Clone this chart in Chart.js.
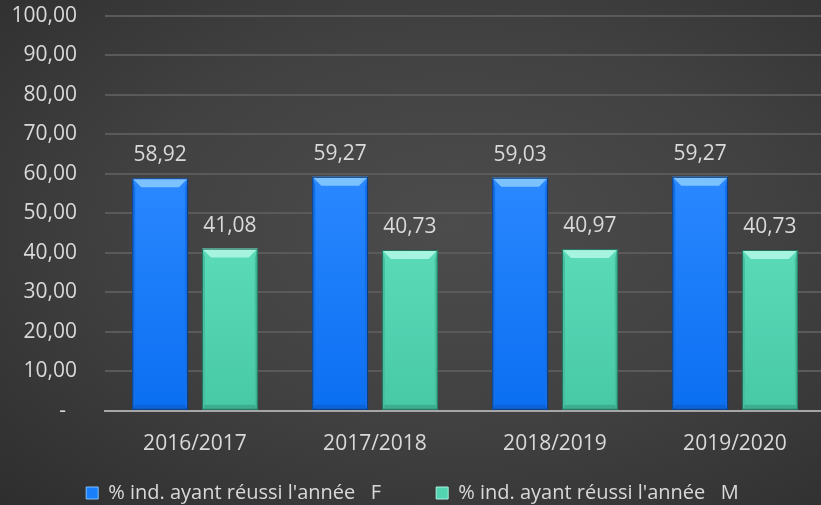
<!DOCTYPE html>
<html>
<head>
<meta charset="utf-8">
<script src="https://cdn.jsdelivr.net/npm/chart.js@4.4.1/dist/chart.umd.min.js"></script>
<style>
html,body{margin:0;padding:0;overflow:hidden;background:#3c3c3c;}
#wrap{position:relative;width:825px;height:505px;
background:radial-gradient(ellipse at 55% 45%, #4c4c4c 0%, #414141 50%, #2e2e2e 100%);}
canvas{display:block;}
</style>
</head>
<body>
<div id="wrap"><canvas id="chartCanvas" width="825" height="505"></canvas></div>
<script>

const categories = ["2016/2017","2017/2018","2018/2019","2019/2020"];
const valuesF = [58.92, 59.27, 59.03, 59.27];
const valuesM = [41.08, 40.73, 40.97, 40.73];
const seriesNames = ["% ind. ayant réussi l'année   F", "% ind. ayant réussi l'année   M"];
const yTicks = [0,10,20,30,40,50,60,70,80,90,100];

const textColor = "#d9d9d9";
const fontFamily = "'Open Sans', sans-serif";

function fmt(v){
if(v === 0){
return "-  ";
}
return v.toFixed(2).replace(".", ",");
}

// colours per series
const palettes = [
{main:"#1a7ffb", top:"#2a88ff", bottom:"#0b6ff2", bevelTop:"#7cc2ff", bevelSide:"#1470e8", bevelBottom:"#0c62d8", edge:"#0d3f80"},
{main:"#52d4b1", top:"#5bdab8", bottom:"#48c9a6", bevelTop:"#a6f3df", bevelSide:"#46bf9e", bevelBottom:"#3cae8e", edge:"#24705c"}
];

// bevelled bars + value labels, legend placement
const bevelPlugin = {
id:"bevel",
beforeLayout(chart){
// wide gap between legend items, but a short legend box
const legend = chart.legend;
if(legend && !legend._patched){
const origFit = legend.fit;
legend.fit = function(){
origFit.call(this);
this.height = 27;
};
legend._patched = true;
}
},
afterLayout(chart){
// items are drawn at top + padding, so lift the box
chart.legend.top = 428;
},
afterDatasetsDraw(chart){
const ctx = chart.ctx;
chart.data.datasets.forEach((ds, di) => {
const meta = chart.getDatasetMeta(di);
const p = palettes[di];
meta.data.forEach((bar, i) => {
const {x, y, base, width} = bar.getProps(["x","y","base","width"], true);
const l = x - width/2, r = x + width/2, t = y, b = base;
const bv = 9;
ctx.save();
const g = ctx.createLinearGradient(0, t, 0, b);
g.addColorStop(0, p.top);
g.addColorStop(1, p.bottom);
ctx.fillStyle = g;
ctx.fillRect(l, t, r-l, b-t);
ctx.fillStyle = p.bevelTop;
ctx.beginPath();
ctx.moveTo(l, t); ctx.lineTo(r, t); ctx.lineTo(r-bv, t+bv); ctx.lineTo(l+bv, t+bv); ctx.closePath(); ctx.fill();
ctx.fillStyle = p.bevelSide;
ctx.beginPath();
ctx.moveTo(l, t); ctx.lineTo(l+3, t+bv); ctx.lineTo(l+3, b-5); ctx.lineTo(l, b); ctx.closePath(); ctx.fill();
ctx.beginPath();
ctx.moveTo(r, t); ctx.lineTo(r-3, t+bv); ctx.lineTo(r-3, b-5); ctx.lineTo(r, b); ctx.closePath(); ctx.fill();
ctx.fillStyle = p.bevelBottom;
ctx.beginPath();
ctx.moveTo(l, b); ctx.lineTo(r, b); ctx.lineTo(r-3, b-5); ctx.lineTo(l+3, b-5); ctx.closePath(); ctx.fill();
ctx.strokeStyle = p.edge;
ctx.lineWidth = 1;
ctx.strokeRect(l+0.5, t+0.5, r-l-1, b-t-1);
ctx.restore();

ctx.save();
ctx.fillStyle = textColor;
ctx.font = "21px " + fontFamily;
ctx.textAlign = "center";
ctx.textBaseline = "middle";
ctx.fillText(fmt(ds.data[i]), x, t - 23);
ctx.restore();
});
});
}
};

const ctx = document.getElementById("chartCanvas");

new Chart(ctx,{

type:"bar",

data:{
labels: categories,
datasets:[
{label: seriesNames[0], data: valuesF, backgroundColor: "rgba(0,0,0,0)", borderWidth: 0},
{label: seriesNames[1], data: valuesM, backgroundColor: "rgba(0,0,0,0)", borderWidth: 0}
]
},

options:{
responsive:false,
animation:false,
layout:{padding:{top:16, bottom:0, left:0, right:0}},
datasets:{bar:{categoryPercentage:0.775, barPercentage:0.8}},
scales:{
x:{
grid:{display:false, drawTicks:false},
border:{display:true, color:"#a6a6a6", width:2},
ticks:{color:textColor, font:{family:fontFamily, size:21}, padding:21, maxRotation:0}
},
y:{
min:0,
max:100,
afterFit(scale){ scale.width = 105; },
afterBuildTicks(scale){ scale.ticks = yTicks.map(v => ({value:v})); },
grid:{color:"#5a5a5a", lineWidth:2, drawTicks:true, tickLength:28, tickColor:"rgba(0,0,0,0)"},
border:{display:false},
ticks:{color:textColor, font:{family:fontFamily, size:21}, padding:0, callback: v => fmt(v)}
}
},
plugins:{
legend:{
position:"bottom",
labels:{
color:textColor,
font:{family:fontFamily, size:20},
boxWidth:12,
boxHeight:12,
padding:55,
generateLabels(chart){
return chart.data.datasets.map((ds, i) => ({
text: ds.label,
fillStyle: palettes[i].main,
strokeStyle: palettes[i].bevelTop,
lineWidth: 1,
fontColor: textColor,
datasetIndex: i
}));
}
}
},
tooltip:{enabled:false}
}
},

plugins:[bevelPlugin]

});

</script>
</body>
</html>
